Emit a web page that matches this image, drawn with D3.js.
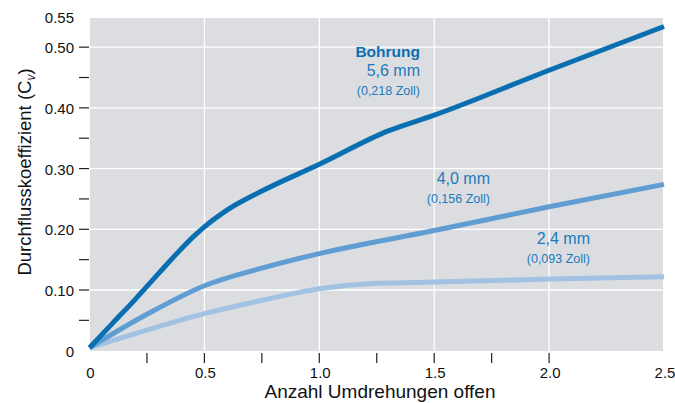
<!DOCTYPE html>
<html>
<head>
<meta charset="utf-8">
<script src="https://cdn.jsdelivr.net/npm/d3@7"></script>
<style>
  body { margin: 0; background: #fff; }
  svg { font-family: "Liberation Sans", Arial, sans-serif; }
</style>
</head>
<body>
<div id="chart"></div>
<script>
// Data (turns open vs. flow coefficient Cv)
const bore56 = [[0, 0.005], [0.1, 0.045], [0.2, 0.085], [0.3, 0.127], [0.4, 0.168], [0.45, 0.187],
    [0.5, 0.204], [0.6, 0.232], [0.75, 0.263], [1.0, 0.307], [1.3, 0.362], [1.5, 0.388],
    [2.0, 0.462], [2.5, 0.534]];
const bore40 = [[0, 0.005], [0.25, 0.06], [0.5, 0.107], [0.75, 0.136], [1.0, 0.16],
    [1.5, 0.198], [2.0, 0.237], [2.5, 0.274]];
const bore24 = [[0, 0.005], [0.25, 0.034], [0.5, 0.061], [0.75, 0.083], [1.0, 0.102], [1.25, 0.111],
    [1.5, 0.113], [2.0, 0.118], [2.5, 0.122]];

const xTickLabels = [0, 0.5, 1.0, 1.5, 2.0, 2.5];
const yTickLabels = [0, 0.10, 0.20, 0.30, 0.40, 0.50, 0.55];
const xMinorTicks = [0.25, 0.5, 0.75, 1.0, 1.25, 1.5, 1.75, 2.0];
const yMinorTicks = [0.05, 0.10, 0.15, 0.20, 0.25, 0.30, 0.35, 0.40, 0.45, 0.50];

const series = [
    {name: "2,4 mm", zoll: "(0,093 Zoll)", values: bore24, color: "#a2c2e3"},
    {name: "4,0 mm", zoll: "(0,156 Zoll)", values: bore40, color: "#5f9dd3"},
    {name: "5,6 mm", zoll: "(0,218 Zoll)", values: bore56, color: "#0a6fb1"}
];

const W = 675, H = 403;
const plot = {left: 90, right: 663, top: 18, bottom: 351};

const svg = d3.select("#chart")
    .append("svg")
    .attr("width", W)
    .attr("height", H);

const x = d3.scaleLinear().domain([0, 2.5]).range([89.5, 664]);
const y = d3.scaleLinear().domain([0, 0.55]).range([350.7, 16.8]);

// Gray plot background
svg.append("rect")
    .attr("x", plot.left)
    .attr("y", plot.top)
    .attr("width", plot.right - plot.left)
    .attr("height", plot.bottom - plot.top)
    .attr("fill", "#dcdde0");

// White grid lines
svg.selectAll(".vgrid")
    .data([0.5, 1.0, 1.5, 2.0])
    .enter().append("line")
    .attr("x1", d => x(d)).attr("x2", d => x(d))
    .attr("y1", plot.top).attr("y2", plot.bottom)
    .attr("stroke", "#fff").attr("stroke-width", 1.3);

svg.selectAll(".hgrid")
    .data([0.1, 0.2, 0.3, 0.4, 0.5])
    .enter().append("line")
    .attr("x1", plot.left).attr("x2", plot.right)
    .attr("y1", d => y(d)).attr("y2", d => y(d))
    .attr("stroke", "#fff").attr("stroke-width", 1.3);

// Tick marks
svg.selectAll(".ytick")
    .data(yMinorTicks)
    .enter().append("line")
    .attr("x1", 79).attr("x2", 89)
    .attr("y1", d => y(d)).attr("y2", d => y(d))
    .attr("stroke", "#222").attr("stroke-width", 1.2);

svg.selectAll(".xtick")
    .data(xMinorTicks)
    .enter().append("line")
    .attr("x1", d => x(d)).attr("x2", d => x(d))
    .attr("y1", 353).attr("y2", 363)
    .attr("stroke", "#222").attr("stroke-width", 1.2);

// Tick labels
svg.selectAll(".ylabel")
    .data(yTickLabels)
    .enter().append("text")
    .attr("x", 74)
    .attr("y", d => y(d) + 6)
    .attr("text-anchor", "end")
    .style("font-size", "15px")
    .attr("fill", "#111")
    .text(d => d === 0 ? "0" : d.toFixed(2));

svg.selectAll(".xlabel")
    .data(xTickLabels)
    .enter().append("text")
    .attr("x", d => x(d) + 1)
    .attr("y", 378)
    .attr("text-anchor", "middle")
    .style("font-size", "15px")
    .attr("fill", "#111")
    .text(d => d === 0 ? "0" : d.toFixed(1));

// Axis titles
svg.append("text")
    .attr("x", 380)
    .attr("y", 398)
    .attr("text-anchor", "middle")
    .style("font-size", "19px")
    .attr("fill", "#111")
    .text("Anzahl Umdrehungen offen");

const yTitle = svg.append("text")
    .attr("transform", "translate(31,172) rotate(-90)")
    .attr("text-anchor", "middle")
    .style("font-size", "18.5px")
    .attr("fill", "#111");
yTitle.append("tspan").text("Durchflusskoeffizient (C");
yTitle.append("tspan").attr("dy", 4).style("font-size", "12px").style("font-style", "italic").text("v");
yTitle.append("tspan").attr("dy", -4).text(")");

// Curves
const line = d3.line()
    .x(d => x(d[0]))
    .y(d => y(d[1]))
    .curve(d3.curveMonotoneX);

svg.selectAll(".curve")
    .data(series)
    .enter().append("path")
    .attr("fill", "none")
    .attr("stroke", d => d.color)
    .attr("stroke-width", 5)
    .attr("stroke-linecap", "butt")
    .attr("d", d => line(d.values));

// Curve labels
const textColor = "#1a7bbd";
const labels = [
    {s: series[2], x: 420, y: 76},
    {s: series[1], x: 490, y: 184},
    {s: series[0], x: 590, y: 244}
];

svg.append("text")
    .attr("x", 420).attr("y", 57)
    .attr("text-anchor", "end")
    .style("font-size", "15.5px")
    .style("font-weight", "bold")
    .attr("fill", "#0a6fb1")
    .text("Bohrung");

labels.forEach(l => {
    svg.append("text")
        .attr("x", l.x).attr("y", l.y)
        .attr("text-anchor", "end")
        .style("font-size", "16px")
        .attr("fill", textColor)
        .text(l.s.name);
    svg.append("text")
        .attr("x", l.x).attr("y", l.y + 18.5)
        .attr("text-anchor", "end")
        .style("font-size", "12.5px")
        .attr("fill", textColor)
        .text(l.s.zoll);
});
</script>
</body>
</html>
